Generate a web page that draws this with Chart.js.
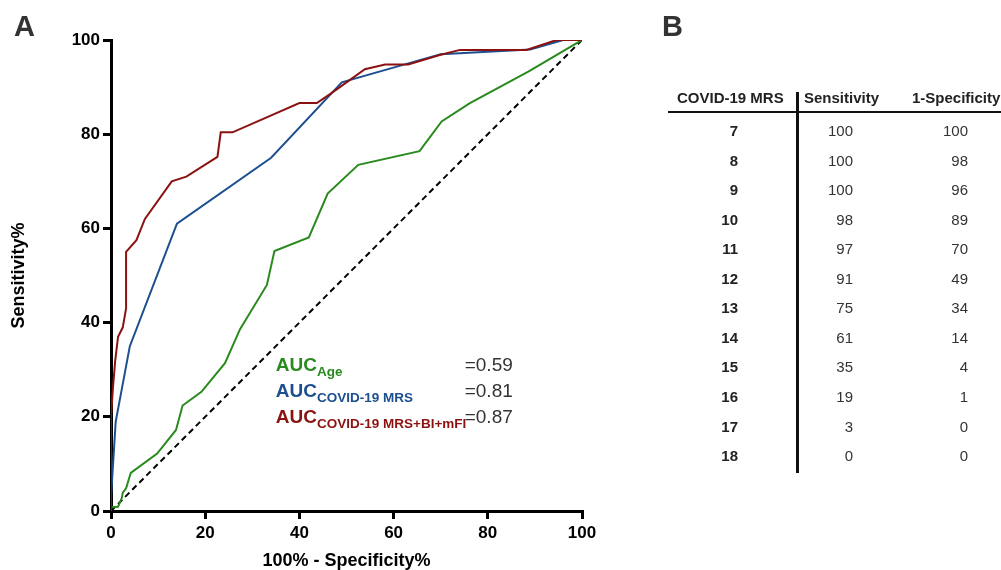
<!DOCTYPE html>
<html>
<head>
<meta charset="utf-8">
<script src="https://cdn.jsdelivr.net/npm/chart.js@4.4.1/dist/chart.umd.min.js"></script>
<style>
  html, body { margin: 0; padding: 0; background: #fff; overflow: hidden; }
  body { width: 1001px; height: 570px; position: relative; font-family: "Liberation Sans", Arial, sans-serif; }
  #roc { position: absolute; left: 0; top: 0; }
  .panel { position: absolute; font-size: 29px; font-weight: bold; line-height: 1; color: #333; }
  .cell { position: absolute; height: 20px; line-height: 20px; font-size: 15px; color: #333; white-space: nowrap; }
  .hdr { font-weight: bold; color: #222; }
  .bold { font-weight: bold; color: #222; }
  .rule { position: absolute; background: #111; }
</style>
</head>
<body>
<canvas id="roc" width="1001" height="570"></canvas>
<div class="panel" style="left:14px; top:12px;">A</div>
<div class="panel" style="left:662px; top:12px;">B</div>
<div id="table"></div>

<script>
// --- table (panel B), also the COVID-19 MRS roc curve ---
const mrsScores = [7, 8, 9, 10, 11, 12, 13, 14, 15, 16, 17, 18];
const mrsSensitivity = [100, 100, 100, 98, 97, 91, 75, 61, 35, 19, 3, 0];
const mrsOneMinusSpec = [100, 98, 96, 89, 70, 49, 34, 14, 4, 1, 0, 0];

// --- Age curve (x = 100-spec, y = sens) ---
const ageX = [0, 0, 1.5, 2.3, 2.5, 3.2, 4.2, 9.8, 13.8, 15.2, 19.2, 24.2, 27.4, 33.1, 34.7, 42, 46, 52.5, 65.5, 70.2, 76.2, 88.6, 100];
const ageY = [0, 0.8, 0.9, 2.8, 3.9, 4.8, 8.1, 12.2, 17.2, 22.4, 25.3, 31.4, 38.6, 48, 55.2, 58.1, 67.4, 73.5, 76.4, 82.7, 86.6, 93.3, 100];

// --- COVID-19 MRS+BI+mFI curve ---
const comboX = [0, 0, 0.4, 0.9, 1.5, 2.5, 3.2, 3.2, 5.4, 7.2, 12.9, 16, 22.6, 23.3, 25.8, 40, 43.7, 46.5, 50, 53.9, 58.2, 63.1, 69.8, 74.1, 88.2, 94.6, 100];
const comboY = [0, 20, 26, 32, 37, 39, 43, 55, 57.5, 62, 70, 71, 75.2, 80.4, 80.4, 86.6, 86.6, 88.5, 91, 93.8, 94.8, 94.8, 96.8, 97.9, 97.9, 100, 100];

const refX = [0, 100];
const refY = [0, 100];

const axisTicks = [0, 20, 40, 60, 80, 100];

const GREEN = '#2a8a1e';
const BLUE = '#1d4f8f';
const RED = '#8c1212';

// auc labels: subscript, value, y in data units
const aucLabels = [
    { sub: 'Age', val: '=0.59', y: 29.7, color: GREEN },
    { sub: 'COVID-19 MRS', val: '=0.81', y: 24.2, color: BLUE },
    { sub: 'COVID-19 MRS+BI+mFI', val: '=0.87', y: 18.7, color: RED }
];
const aucTextX = 35;
const aucValRightX = 85.3;

const pts = (xs, ys) => xs.map((x, i) => ({ x: x, y: ys[i] }));

// --- build table ---
const FONT = '"Liberation Sans", Arial, sans-serif';
function cell(text, right, centerY, cls) {
    return `<div class="cell ${cls || ''}" style="left:${right - 120}px; width:120px; text-align:right; top:${centerY - 10}px;">${text}</div>`;
}
let html = '';
html += `<div class="cell hdr" style="left:677px; top:88px;">COVID-19 MRS</div>`;
html += `<div class="cell hdr" style="left:804px; top:88px;">Sensitivity</div>`;
html += `<div class="cell hdr" style="left:912px; top:88px;">1-Specificity</div>`;
html += `<div class="rule" style="left:668px; top:111px; width:333px; height:2px;"></div>`;
html += `<div class="rule" style="left:796px; top:92px; width:3px; height:381px;"></div>`;
mrsScores.forEach((s, i) => {
    const cy = 131 + i * 29.55;
    html += cell(s, 738, cy, 'bold');
    html += cell(mrsSensitivity[i], 853, cy);
    html += cell(mrsOneMinusSpec[i], 968, cy);
});
document.getElementById('table').innerHTML = html;

// --- auc annotation plugin ---
const aucPlugin = {
    id: 'aucText',
    afterDatasetsDraw(chart) {
        const ctx = chart.ctx;
        const xs = chart.scales.x, ys = chart.scales.y;
        ctx.save();
        ctx.textBaseline = 'alphabetic';
        aucLabels.forEach(l => {
            const px = xs.getPixelForValue(aucTextX);
            const py = ys.getPixelForValue(l.y);
            ctx.fillStyle = l.color;
            ctx.textAlign = 'left';
            ctx.font = 'bold 19px ' + FONT;
            ctx.fillText('AUC', px, py);
            const w = ctx.measureText('AUC').width;
            ctx.font = 'bold 13.5px ' + FONT;
            ctx.fillText(l.sub, px + w, py + 5);
            ctx.fillStyle = '#333';
            ctx.font = '19px ' + FONT;
            ctx.textAlign = 'right';
            ctx.fillText(l.val, xs.getPixelForValue(aucValRightX), py);
        });
        ctx.restore();
    }
};

const axisCommon = {
    type: 'linear',
    min: 0, max: 100,
    border: { display: true, color: '#000', width: 3 },
    grid: { drawOnChartArea: false, drawTicks: true, tickLength: 8, tickWidth: 3, lineWidth: 3, color: '#000', tickColor: '#000' },
    afterBuildTicks: s => { s.ticks = axisTicks.map(v => ({ value: v })); }
};

new Chart(document.getElementById('roc'), {
    type: 'scatter',
    data: {
        datasets: [
            { data: pts(comboX, comboY), borderColor: RED, borderWidth: 2, showLine: true, pointRadius: 0, tension: 0 },
            { data: pts(mrsOneMinusSpec, mrsSensitivity), borderColor: BLUE, borderWidth: 2, showLine: true, pointRadius: 0, tension: 0 },
            { data: pts(ageX, ageY), borderColor: GREEN, borderWidth: 2, showLine: true, pointRadius: 0, tension: 0 },
            { data: pts(refX, refY), borderColor: '#000', borderWidth: 2, borderDash: [6, 4], showLine: true, pointRadius: 0 }
        ]
    },
    options: {
        responsive: false,
        animation: false,
        devicePixelRatio: 1,
        layout: { padding: { left: 0, right: 419, top: 40, bottom: 0 } },
        plugins: { legend: { display: false }, tooltip: { enabled: false } },
        scales: {
            x: Object.assign({}, axisCommon, {
                position: 'bottom',
                ticks: { color: '#000', padding: 4, font: { family: FONT, size: 17, weight: 'bold' } },
                title: { display: true, text: '100% - Specificity%', color: '#000', padding: { top: 0, bottom: 0 }, font: { family: FONT, size: 18, weight: 'bold', lineHeight: 1 } },
                afterFit: s => { s.height = 59; }
            }),
            y: Object.assign({}, axisCommon, {
                position: 'left',
                ticks: { color: '#000', padding: 3, font: { family: FONT, size: 17, weight: 'bold' } },
                title: { display: true, text: 'Sensitivity%', color: '#000', padding: { top: 10, bottom: 0 }, font: { family: FONT, size: 18, weight: 'bold', lineHeight: 1 } },
                afterFit: s => { s.width = 111; }
            })
        }
    },
    plugins: [aucPlugin]
});
</script>
</body>
</html>
